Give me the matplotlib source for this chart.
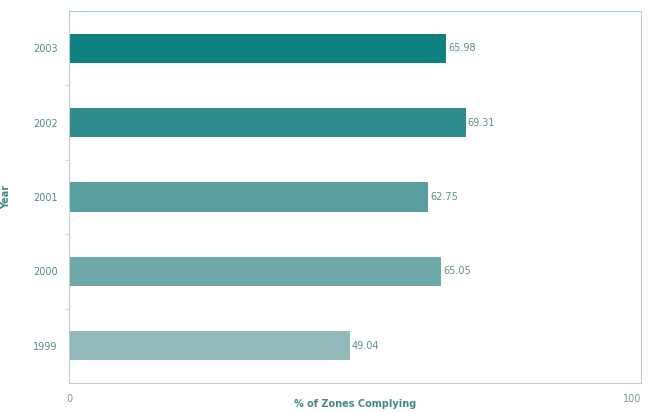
import matplotlib
matplotlib.use("Agg")
import matplotlib.pyplot as plt

years = ["1999", "2000", "2001", "2002", "2003"]
values = [49.04, 65.05, 62.75, 69.31, 65.98]
bar_colors = ["#93babb", "#6fa8a9", "#5b9ea0", "#2f8c8c", "#0f8181"]

fig = plt.figure(figsize=(6.48, 4.12), dpi=100)
ax = fig.add_axes([0.1065, 0.0704, 0.8829, 0.9029])

pos = list(range(len(years)))
ax.barh(pos, values, height=0.39, color=bar_colors, edgecolor="none")

for p, v in zip(pos, values):
    ax.text(v + 0.4, p, f"{v:.2f}", va="center", ha="left",
            fontsize=7, color="#5f8f8f")

ax.set_xlim(0, 100)
ax.set_ylim(-0.5, 4.5)
ax.set_yticks(pos)
ax.set_yticklabels(years)
ax.set_yticks([p + 0.5 for p in pos[:-1]], minor=True)
ax.set_xticks([0, 100])
ax.tick_params(axis="y", which="major", length=0, pad=8, labelsize=7,
               labelcolor="#4f8e8e")
ax.tick_params(axis="y", which="minor", length=3, color="#c8d4d4")
ax.tick_params(axis="x", length=0, pad=8, labelsize=7, labelcolor="#7a9a9a")
xlabels = ax.get_xticklabels()
xlabels[-1].set_horizontalalignment("right")
xlabels[-1].set_x(100)

for side in ["left", "bottom", "right"]:
    ax.spines[side].set_color("#c4cccc")
ax.spines["top"].set_color("#9fcfcf")

ax.set_xlabel("% of Zones Complying", fontsize=7, fontweight="bold",
              color="#3f8a8a", labelpad=-4)
ax.set_ylabel("Year", fontsize=7, fontweight="bold", color="#3f8a8a",
              labelpad=16)

fig.savefig("out.png", dpi=100)
